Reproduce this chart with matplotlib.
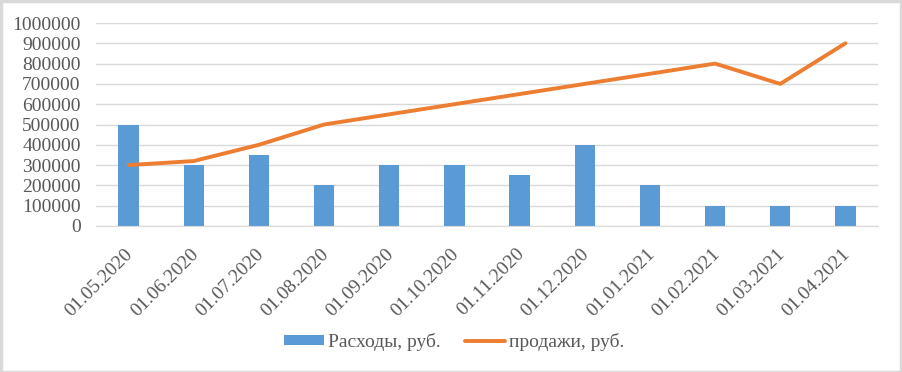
import matplotlib
matplotlib.use("Agg")
import matplotlib.pyplot as plt
from matplotlib.patches import Rectangle
from matplotlib.transforms import ScaledTranslation

dates = ["01.05.2020", "01.06.2020", "01.07.2020", "01.08.2020", "01.09.2020", "01.10.2020",
         "01.11.2020", "01.12.2020", "01.01.2021", "01.02.2021", "01.03.2021", "01.04.2021"]
expenses = [500000, 300000, 350000, 200000, 300000, 300000, 250000, 400000, 200000, 100000, 100000, 100000]
sales = [300000, 320000, 400000, 500000, 550000, 600000, 650000, 700000, 750000, 800000, 700000, 900000]
yticks = list(range(0, 1000001, 100000))

plt.rcParams['font.family'] = ['Liberation Serif', 'DejaVu Serif']

fig = plt.figure(figsize=(9.02, 3.72), dpi=100)
ax = fig.add_axes([96/902, 1 - 226/372, (878-96)/902, (226-23)/372])

x = list(range(len(dates)))
bars = ax.bar(x, expenses, width=0.31, color='#5B9BD5', label='Расходы, руб.', zorder=2)
line, = ax.plot(x, sales, color='#ED7D31', linewidth=2.8, label='продажи, руб.', zorder=3,
                solid_capstyle='round', solid_joinstyle='round')

ax.set_xlim(-0.5, len(dates) - 0.5)
ax.set_ylim(0, 1000000)
ax.set_yticks(yticks)
ax.set_yticklabels([str(v) for v in yticks])
ax.set_xticks(x)
ax.set_xticklabels(dates, rotation=45, ha='right', rotation_mode='anchor')
ax.grid(axis='y', color='#D9D9D9', linewidth=1, zorder=0)
ax.set_axisbelow(True)
for s in ['top', 'right', 'left']:
    ax.spines[s].set_visible(False)
ax.spines['bottom'].set_color('#D9D9D9')
ax.tick_params(axis='both', length=0, labelsize=14, labelcolor='#595959')
ax.tick_params(axis='y', pad=11)
ax.tick_params(axis='x', pad=6)
off = ScaledTranslation(-4/100, -11/100, fig.dpi_scale_trans)
for lab in ax.get_xticklabels():
    lab.set_transform(lab.get_transform() + off)

leg = fig.legend([bars, line], ['Расходы, руб.', 'продажи, руб.'], loc='center',
                 bbox_to_anchor=(454/902, 1 - 342/372), ncol=2, frameon=False,
                 fontsize=14, labelcolor='#595959', handlelength=2.05, handleheight=0.45,
                 columnspacing=1.25, handletextpad=0.2)

fig.patches.append(Rectangle((0.5/902, 0.5/372), 1 - 1.5/902, 1 - 1.5/372, transform=fig.transFigure,
                             fill=False, edgecolor='#D9D9D9', linewidth=2.5))

fig.savefig('out.png', dpi=100)
